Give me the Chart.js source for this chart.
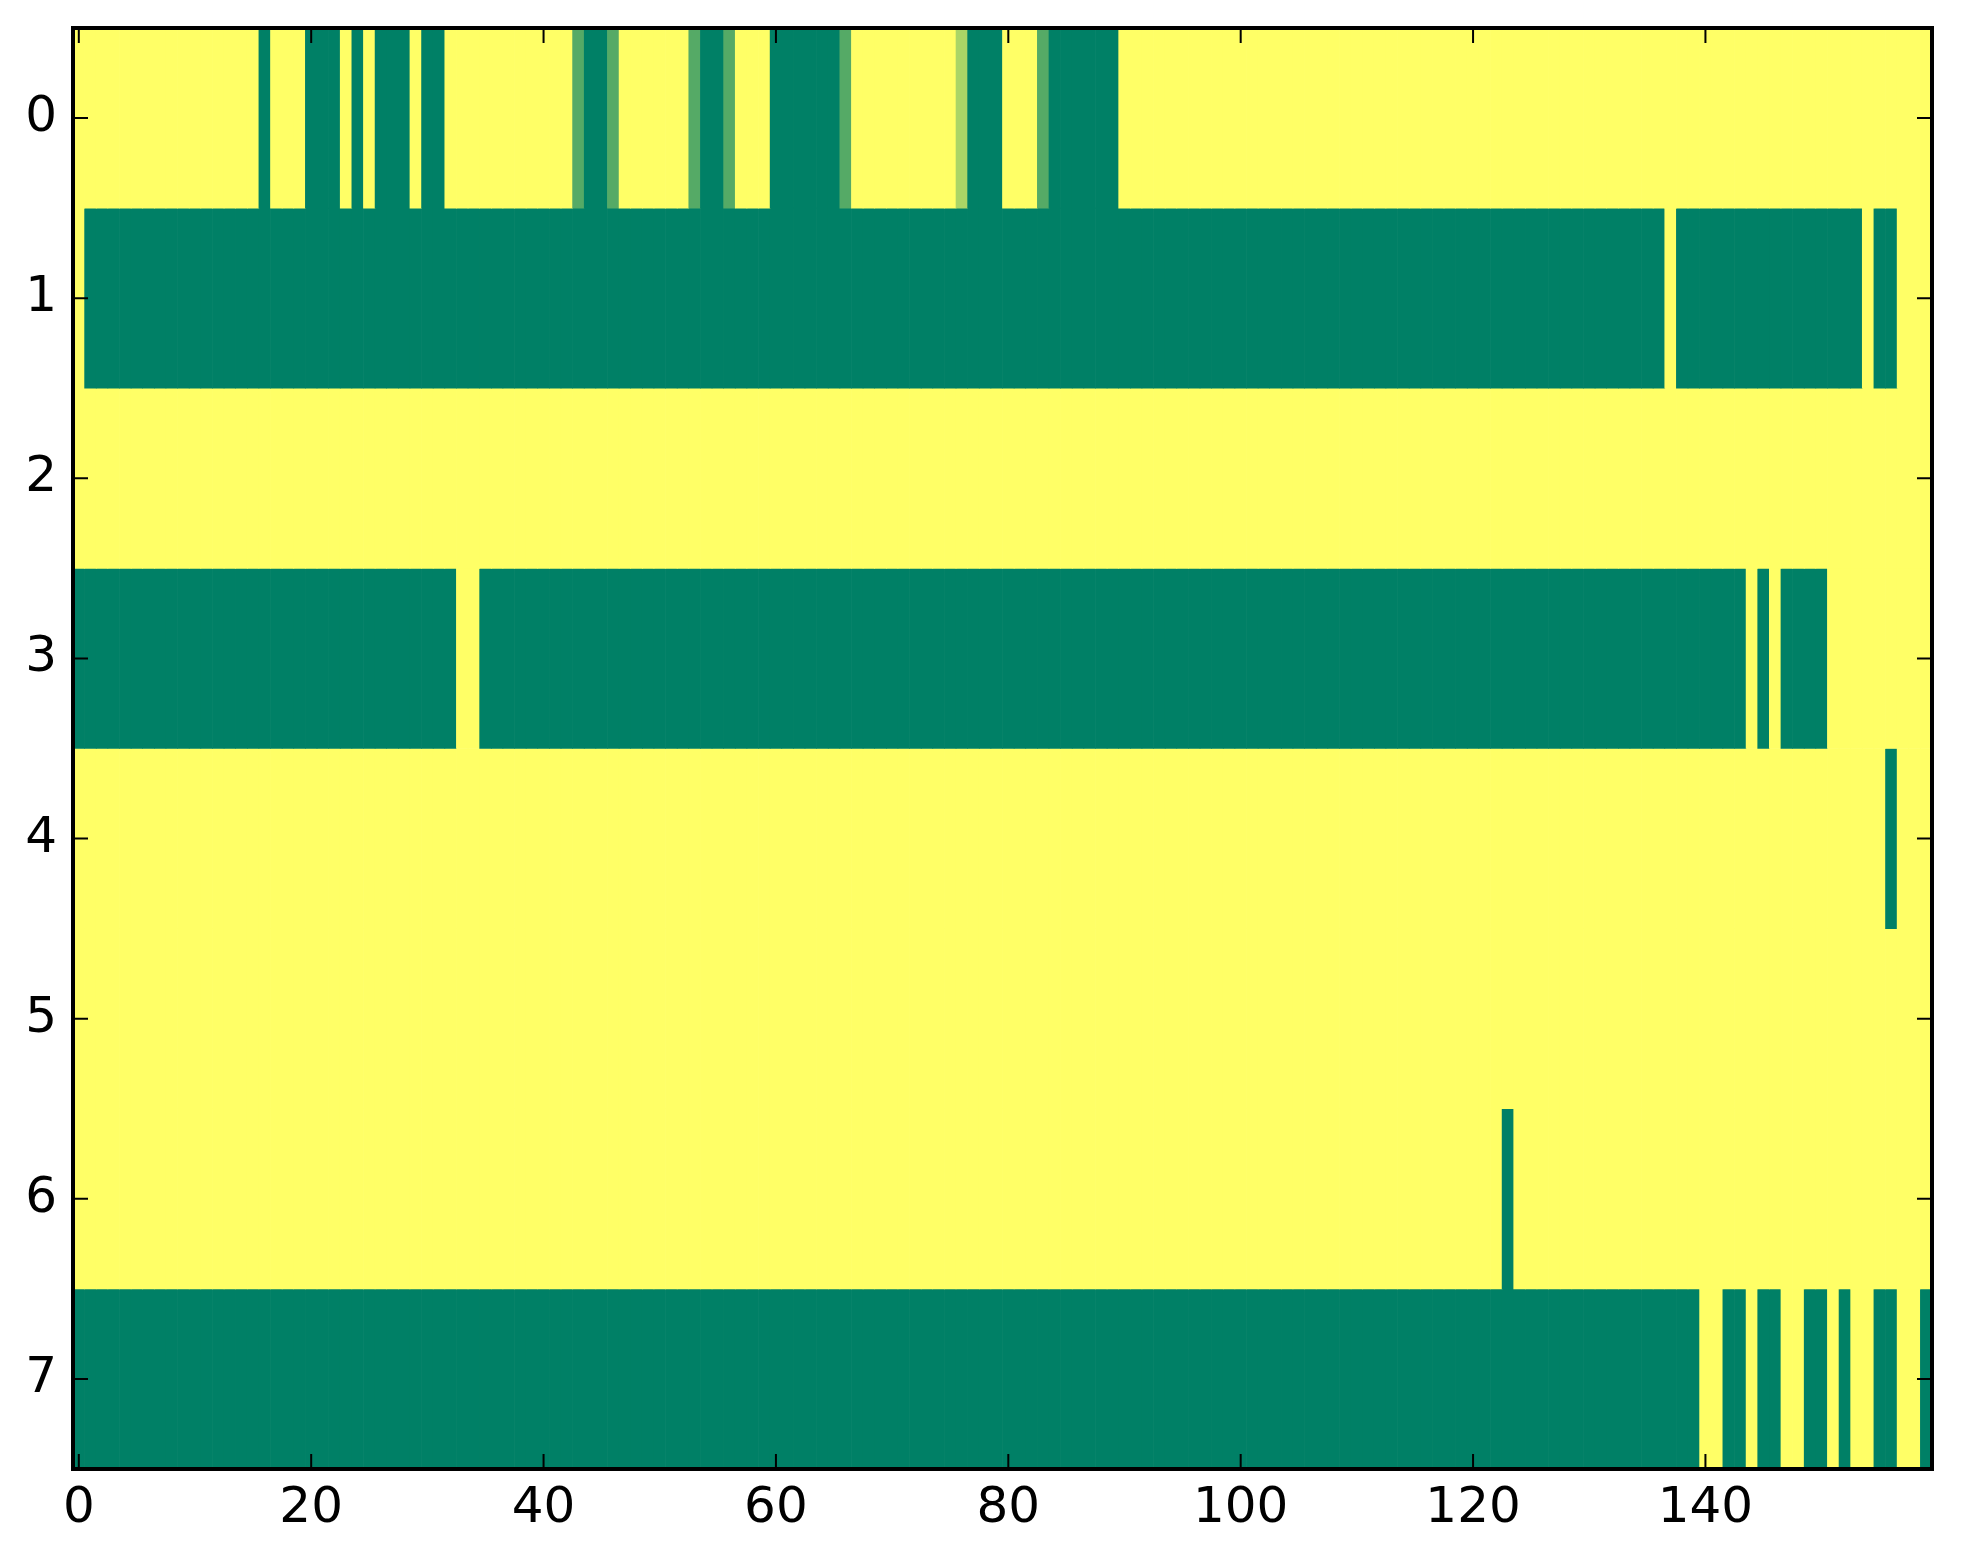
<!DOCTYPE html>
<html>
<head>
<meta charset="utf-8">
<script src="https://cdn.jsdelivr.net/npm/chart.js@4.4.1/dist/chart.umd.min.js"></script>
<style>
  html, body { margin: 0; padding: 0; background: #ffffff; }
  canvas { display: block; }
</style>
</head>
<body>
<canvas id="c" width="1963" height="1564"></canvas>
<script>
// ---- data ----
const rowLabels = ['0', '1', '2', '3', '4', '5', '6', '7'];
const xTickValues = [0, 20, 40, 60, 80, 100, 120, 140];

const row0 = [
  1,1,1,1,1,1,1,1,1,1, 1,1,1,1,1,1,0,1,1,1,
  0,0,0,1,0,1,0,0,0,1, 0,0,1,1,1,1,1,1,1,1,
  1,1,1,.333,0,0,.333,1,1,1, 1,1,1,.333,0,0,.333,1,1,1,
  0,0,0,0,0,0,.333,1,1,1, 1,1,1,1,1,1,.667,0,0,0,
  1,1,1,.333,0,0,0,0,0,0, 1,1,1,1,1,1,1,1,1,1,
  1,1,1,1,1,1,1,1,1,1, 1,1,1,1,1,1,1,1,1,1,
  1,1,1,1,1,1,1,1,1,1, 1,1,1,1,1,1,1,1,1,1,
  1,1,1,1,1,1,1,1,1,1, 1,1,1,1,1,1,1,1,1,1
];
const row1 = [
  1,0,0,0,0,0,0,0,0,0, 0,0,0,0,0,0,0,0,0,0,
  0,0,0,0,0,0,0,0,0,0, 0,0,0,0,0,0,0,0,0,0,
  0,0,0,0,0,0,0,0,0,0, 0,0,0,0,0,0,0,0,0,0,
  0,0,0,0,0,0,0,0,0,0, 0,0,0,0,0,0,0,0,0,0,
  0,0,0,0,0,0,0,0,0,0, 0,0,0,0,0,0,0,0,0,0,
  0,0,0,0,0,0,0,0,0,0, 0,0,0,0,0,0,0,0,0,0,
  0,0,0,0,0,0,0,0,0,0, 0,0,0,0,0,0,0,1,0,0,
  0,0,0,0,0,0,0,0,0,0, 0,0,0,0,1,0,0,1,1,1
];
const row2 = [
  1,1,1,1,1,1,1,1,1,1, 1,1,1,1,1,1,1,1,1,1,
  1,1,1,1,1,1,1,1,1,1, 1,1,1,1,1,1,1,1,1,1,
  1,1,1,1,1,1,1,1,1,1, 1,1,1,1,1,1,1,1,1,1,
  1,1,1,1,1,1,1,1,1,1, 1,1,1,1,1,1,1,1,1,1,
  1,1,1,1,1,1,1,1,1,1, 1,1,1,1,1,1,1,1,1,1,
  1,1,1,1,1,1,1,1,1,1, 1,1,1,1,1,1,1,1,1,1,
  1,1,1,1,1,1,1,1,1,1, 1,1,1,1,1,1,1,1,1,1,
  1,1,1,1,1,1,1,1,1,1, 1,1,1,1,1,1,1,1,1,1
];
const row3 = [
  0,0,0,0,0,0,0,0,0,0, 0,0,0,0,0,0,0,0,0,0,
  0,0,0,0,0,0,0,0,0,0, 0,0,0,1,1,0,0,0,0,0,
  0,0,0,0,0,0,0,0,0,0, 0,0,0,0,0,0,0,0,0,0,
  0,0,0,0,0,0,0,0,0,0, 0,0,0,0,0,0,0,0,0,0,
  0,0,0,0,0,0,0,0,0,0, 0,0,0,0,0,0,0,0,0,0,
  0,0,0,0,0,0,0,0,0,0, 0,0,0,0,0,0,0,0,0,0,
  0,0,0,0,0,0,0,0,0,0, 0,0,0,0,0,0,0,0,0,0,
  0,0,0,0,1,0,1,0,0,0, 0,1,1,1,1,1,1,1,1,1
];
const row4 = [
  1,1,1,1,1,1,1,1,1,1, 1,1,1,1,1,1,1,1,1,1,
  1,1,1,1,1,1,1,1,1,1, 1,1,1,1,1,1,1,1,1,1,
  1,1,1,1,1,1,1,1,1,1, 1,1,1,1,1,1,1,1,1,1,
  1,1,1,1,1,1,1,1,1,1, 1,1,1,1,1,1,1,1,1,1,
  1,1,1,1,1,1,1,1,1,1, 1,1,1,1,1,1,1,1,1,1,
  1,1,1,1,1,1,1,1,1,1, 1,1,1,1,1,1,1,1,1,1,
  1,1,1,1,1,1,1,1,1,1, 1,1,1,1,1,1,1,1,1,1,
  1,1,1,1,1,1,1,1,1,1, 1,1,1,1,1,1,0,1,1,1
];
const row5 = [
  1,1,1,1,1,1,1,1,1,1, 1,1,1,1,1,1,1,1,1,1,
  1,1,1,1,1,1,1,1,1,1, 1,1,1,1,1,1,1,1,1,1,
  1,1,1,1,1,1,1,1,1,1, 1,1,1,1,1,1,1,1,1,1,
  1,1,1,1,1,1,1,1,1,1, 1,1,1,1,1,1,1,1,1,1,
  1,1,1,1,1,1,1,1,1,1, 1,1,1,1,1,1,1,1,1,1,
  1,1,1,1,1,1,1,1,1,1, 1,1,1,1,1,1,1,1,1,1,
  1,1,1,1,1,1,1,1,1,1, 1,1,1,1,1,1,1,1,1,1,
  1,1,1,1,1,1,1,1,1,1, 1,1,1,1,1,1,1,1,1,1
];
const row6 = [
  1,1,1,1,1,1,1,1,1,1, 1,1,1,1,1,1,1,1,1,1,
  1,1,1,1,1,1,1,1,1,1, 1,1,1,1,1,1,1,1,1,1,
  1,1,1,1,1,1,1,1,1,1, 1,1,1,1,1,1,1,1,1,1,
  1,1,1,1,1,1,1,1,1,1, 1,1,1,1,1,1,1,1,1,1,
  1,1,1,1,1,1,1,1,1,1, 1,1,1,1,1,1,1,1,1,1,
  1,1,1,1,1,1,1,1,1,1, 1,1,1,1,1,1,1,1,1,1,
  1,1,1,0,1,1,1,1,1,1, 1,1,1,1,1,1,1,1,1,1,
  1,1,1,1,1,1,1,1,1,1, 1,1,1,1,1,1,1,1,1,1
];
const row7 = [
  0,0,0,0,0,0,0,0,0,0, 0,0,0,0,0,0,0,0,0,0,
  0,0,0,0,0,0,0,0,0,0, 0,0,0,0,0,0,0,0,0,0,
  0,0,0,0,0,0,0,0,0,0, 0,0,0,0,0,0,0,0,0,0,
  0,0,0,0,0,0,0,0,0,0, 0,0,0,0,0,0,0,0,0,0,
  0,0,0,0,0,0,0,0,0,0, 0,0,0,0,0,0,0,0,0,0,
  0,0,0,0,0,0,0,0,0,0, 0,0,0,0,0,0,0,0,0,0,
  0,0,0,0,0,0,0,0,0,0, 0,0,0,0,0,0,0,0,0,0,
  1,1,0,0,1,0,0,1,1,0, 0,1,0,1,1,0,0,1,1,0
];
const rows = [row0, row1, row2, row3, row4, row5, row6, row7];

// ---- colormap (matplotlib "summer") ----
function summer(v) {
  const r = Math.round(255 * v);
  const g = Math.round(255 * (0.5 + v / 2));
  return 'rgb(' + r + ',' + g + ',102)';
}

const datasets = rows.map((vals, r) => ({
  label: rowLabels[r],
  data: vals.map((v, c) => ({ x: c, y: [r - 0.5, r + 0.5] })),
  backgroundColor: vals.map(summer),
  borderWidth: 0,
  grouped: false,
  barPercentage: 1,
  categoryPercentage: 1
}));

const frame = {
  id: 'frame',
  afterDatasetsDraw(chart) {
    const { ctx, chartArea: a, scales } = chart;
    ctx.save();
    ctx.strokeStyle = '#000';
    ctx.lineWidth = 2;
    const tl = 15;
    ctx.beginPath();
    scales.x.ticks.forEach(t => {
      const px = scales.x.getPixelForValue(t.value);
      ctx.moveTo(px, a.bottom); ctx.lineTo(px, a.bottom - tl);
      ctx.moveTo(px, a.top); ctx.lineTo(px, a.top + tl);
    });
    scales.y.ticks.forEach(t => {
      const py = scales.y.getPixelForValue(t.value);
      ctx.moveTo(a.left, py); ctx.lineTo(a.left + tl, py);
      ctx.moveTo(a.right, py); ctx.lineTo(a.right - tl, py);
    });
    ctx.stroke();
    ctx.lineWidth = 4;
    ctx.strokeRect(a.left, a.top, a.right - a.left, a.bottom - a.top);
    ctx.restore();
  }
};

new Chart(document.getElementById('c'), {
  type: 'bar',
  data: { datasets },
  plugins: [frame],
  options: {
    responsive: false,
    devicePixelRatio: 1,
    animation: false,
    layout: { padding: { top: 28, right: 31, left: 0, bottom: 0 } },
    plugins: { legend: { display: false }, tooltip: { enabled: false } },
    scales: {
      x: {
        type: 'linear',
        position: 'bottom',
        offset: false,
        min: -0.5,
        max: 159.5,
        grid: { display: false, drawTicks: false, offset: false },
        border: { display: false },
        ticks: {
          includeBounds: false,
          autoSkip: false,
          maxRotation: 0,
          padding: 10,
          color: '#000',
          font: { family: 'DejaVu Sans', size: 50 },
          callback: v => String(v)
        },
        afterBuildTicks: s => { s.ticks = xTickValues.map(v => ({ value: v })); },
        afterFit: s => { s.height = 95; s.paddingLeft = 0; s.paddingRight = 0; }
      },
      y: {
        type: 'linear',
        min: -0.5,
        max: 7.5,
        reverse: true,
        offset: false,
        grid: { display: false, drawTicks: false },
        border: { display: false },
        ticks: {
          includeBounds: false,
          autoSkip: false,
          padding: 16,
          color: '#000',
          font: { family: 'DejaVu Sans', size: 50 },
          callback: v => rowLabels[v]
        },
        afterBuildTicks: s => { s.ticks = rowLabels.map((l, i) => ({ value: i })); },
        afterFit: s => { s.width = 73; s.paddingTop = 0; s.paddingBottom = 0; }
      }
    }
  }
});
</script>
</body>
</html>
